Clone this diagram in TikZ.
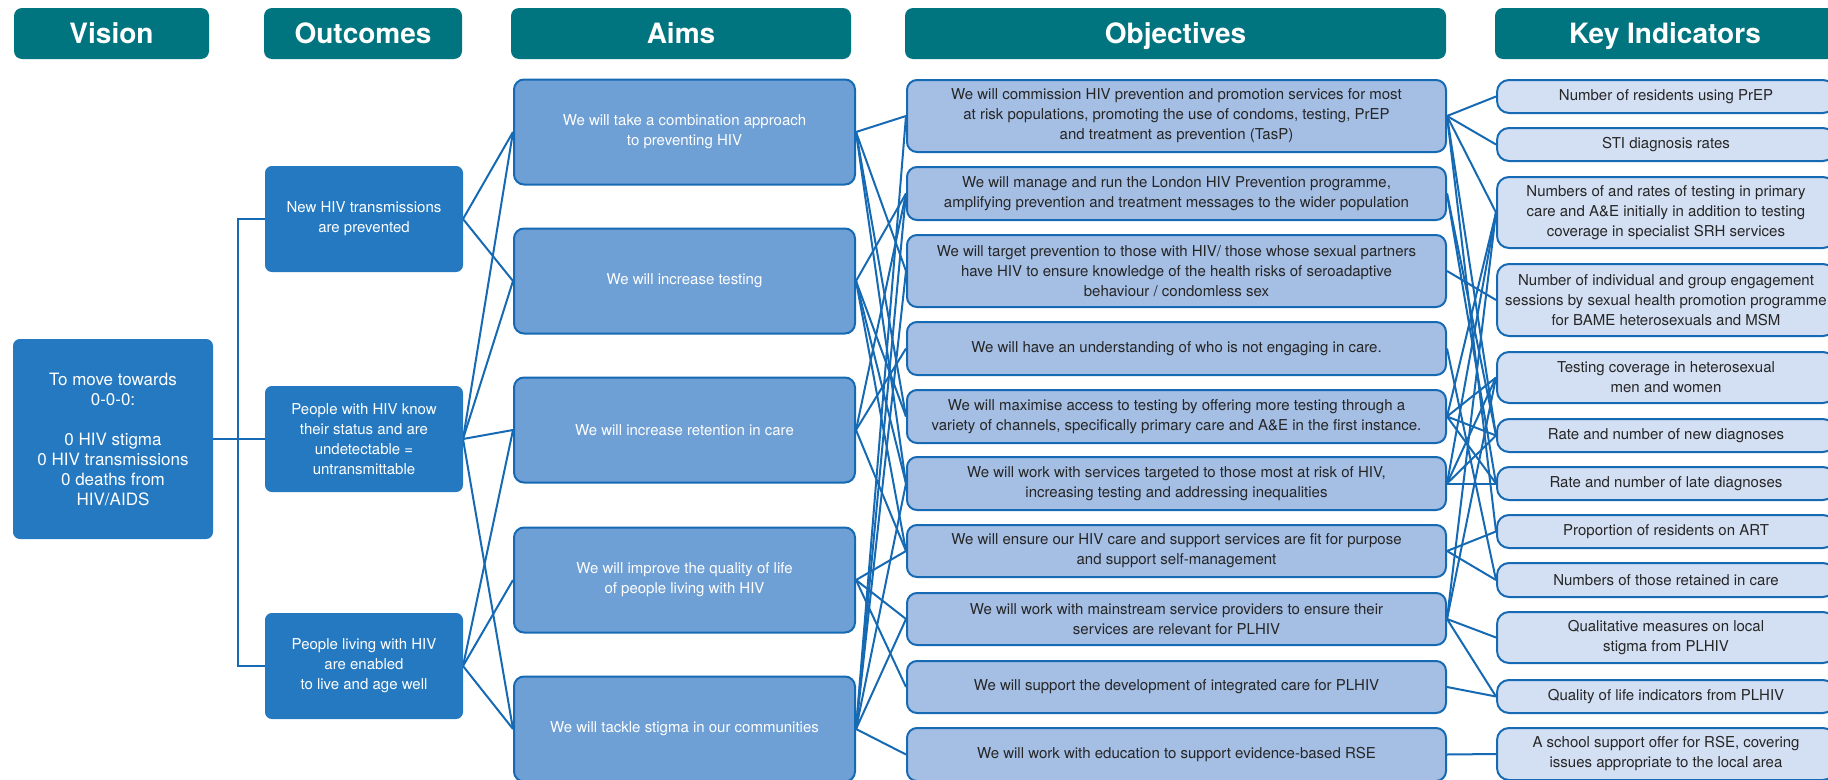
\documentclass[tikz,border=0pt]{standalone}
\usepackage{fontspec}
\setmainfont{TeX Gyre Heros}
\usepackage{tikz}
\usetikzlibrary{arrows,shapes}
\pgfdeclarelayer{background}
\pgfsetlayers{background,main}
\definecolor{hdrteal}{RGB}{0,117,128}
\definecolor{visblue}{RGB}{36,121,193}
\definecolor{aimblue}{RGB}{110,159,213}
\definecolor{objblue}{RGB}{164,190,228}
\definecolor{kiblue}{RGB}{211,223,242}
\definecolor{linkblue}{RGB}{22,106,180}
\tikzstyle{header}=[rectangle,rounded corners=8pt,fill=hdrteal,text=white,minimum height=51pt,text height=20pt,text depth=0pt,font=\fontsize{28}{32}\selectfont\bfseries]
\tikzstyle{box}=[rectangle,rounded corners=10pt,draw=linkblue,line width=2pt,align=center,inner sep=2pt,font=\fontsize{15}{20}\selectfont]
\tikzstyle{vision box}=[box,fill=visblue,draw=visblue,text=white,minimum width=198pt,minimum height=198pt,rounded corners=6pt,font=\fontsize{17}{20}\selectfont]
\tikzstyle{outcome}=[box,fill=visblue,draw=visblue,text=white,minimum width=196pt,minimum height=104pt,rounded corners=6pt]
\tikzstyle{aim}=[box,fill=aimblue,text=white,minimum width=341pt,minimum height=105pt]
\tikzstyle{objective}=[box,fill=objblue,text=black!85,minimum width=539pt]
\tikzstyle{indicator}=[box,fill=kiblue,text=black!85,minimum width=338pt,rounded corners=12pt]
\tikzstyle{edge}=[draw,line width=2pt,linkblue,-]

\begin{document}
\begin{tikzpicture}[x=1pt,y=-1pt]
    \useasboundingbox (0,0) rectangle (1828,779);
    % Column headers
    \foreach \pos/\name/\hw/\txt in {{(111.5,33.5)/hVis/195/Vision}, {(363,33.5)/hOut/198/Outcomes}, {(681,33.5)/hAim/340/Aims}, {(1175.5,33.5)/hObj/541/Objectives}, {(1665,33.5)/hKey/340/Key Indicators}}
        \node[header,minimum width=\hw pt] (\name) at \pos {\txt};

    % Vision and outcomes
    \node[vision box] (vis) at (113,439) {To move towards\\0-0-0:\\[20pt]0 HIV stigma\\0 HIV transmissions\\0 deaths from\\HIV/AIDS};
    \node[outcome] (out1) at (364,219) {New HIV transmissions\\are prevented};
    \node[outcome] (out2) at (364,439) {People with HIV know\\their status and are\\undetectable =\\untransmittable};
    \node[outcome] (out3) at (364,666) {People living with HIV\\are enabled\\to live and age well};

    % Aims
    \node[aim] (a1) at (684.5,132) {We will take a combination approach\\to preventing HIV};
    \node[aim] (a2) at (684.5,281) {We will increase testing};
    \node[aim] (a3) at (684.5,430) {We will increase retention in care};
    \node[aim] (a4) at (684.5,580) {We will improve the quality of life\\of people living with HIV};
    \node[aim] (a5) at (684.5,729) {We will tackle stigma in our communities};

    % Objectives
    \node[objective,minimum height=72pt] (o1) at (1176.5,116) {We will commission HIV prevention and promotion services for most\\at risk populations, promoting the use of condoms, testing, PrEP\\and treatment as prevention (TasP)};
    \node[objective,minimum height=53pt] (o2) at (1176.5,193.5) {We will manage and run the London HIV Prevention programme,\\amplifying prevention and treatment messages to the wider population};
    \node[objective,minimum height=72pt] (o3) at (1176.5,271) {We will target prevention to those with HIV/ those whose sexual partners\\have HIV to ensure knowledge of the health risks of seroadaptive\\behaviour / condomless sex};
    \node[objective,minimum height=53pt] (o4) at (1176.5,348.5) {We will have an understanding of who is not engaging in care.};
    \node[objective,minimum height=53pt] (o5) at (1176.5,416.5) {We will maximise access to testing by offering more testing through a\\variety of channels, specifically primary care and A\&E in the first instance.};
    \node[objective,minimum height=53pt] (o6) at (1176.5,483.5) {We will work with services targeted to those most at risk of HIV,\\increasing testing and addressing inequalities};
    \node[objective,minimum height=52pt] (o7) at (1176.5,551) {We will ensure our HIV care and support services are fit for purpose\\and support self-management};
    \node[objective,minimum height=52pt] (o8) at (1176.5,619) {We will work with mainstream service providers to ensure their\\services are relevant for PLHIV};
    \node[objective,minimum height=52pt] (o9) at (1176.5,687) {We will support the development of integrated care for PLHIV};
    \node[objective,minimum height=53pt] (o10) at (1176.5,754.5) {We will work with education to support evidence-based RSE};

    % Key indicators
    \node[indicator,minimum height=33pt] (k1) at (1666,96.5) {Number of residents using PrEP};
    \node[indicator,minimum height=33pt] (k2) at (1666,144.5) {STI diagnosis rates};
    \node[indicator,minimum height=71pt] (k3) at (1666,212.5) {Numbers of and rates of testing in primary\\care and A\&E initially in addition to testing\\coverage in specialist SRH services};
    \node[indicator,minimum height=72pt] (k4) at (1666,300) {Number of individual and group engagement\\sessions by sexual health promotion programme\\for BAME heterosexuals and MSM};
    \node[indicator,minimum height=51pt] (k5) at (1666,377.5) {Testing coverage in heterosexual\\men and women};
    \node[indicator,minimum height=33pt] (k6) at (1666,435.5) {Rate and number of new diagnoses};
    \node[indicator,minimum height=33pt] (k7) at (1666,483.5) {Rate and number of late diagnoses};
    \node[indicator,minimum height=33pt] (k8) at (1666,531.5) {Proportion of residents on ART};
    \node[indicator,minimum height=34pt] (k9) at (1666,580) {Numbers of those retained in care};
    \node[indicator,minimum height=51pt] (k10) at (1666,637.5) {Qualitative measures on local\\stigma from PLHIV};
    \node[indicator,minimum height=33pt] (k11) at (1666,696.5) {Quality of life indicators from PLHIV};
    \node[indicator,minimum height=52pt] (k12) at (1666,754) {A school support offer for RSE, covering\\issues appropriate to the local area};

    % Connect the columns
    \begin{pgfonlayer}{background}
    \coordinate (split) at (238,439);
    \path[edge] (vis.east) -- (out2.west);
    \path[edge] (out1.west) -| (split) |- (out3.west);
    \foreach \source/\dest in {out1/a1, out1/a2, out2/a1, out2/a2, out2/a3, out2/a5, out3/a3, out3/a4, out3/a5}
        \path[edge] (\source.east) -- (\dest.west);
    \foreach \source/\dest in {a1/o1, a1/o3, a1/o5, a1/o6, a2/o2, a2/o5, a2/o6, a2/o7, a3/o2, a3/o4, a3/o7, a4/o7, a4/o8, a4/o9, a5/o1, a5/o2, a5/o3, a5/o6, a5/o8, a5/o10}
        \path[edge] (\source.east) -- (\dest.west);
    \foreach \source/\dest in {o1/k1, o1/k2, o1/k3, o1/k6, o1/k8, o2/k6, o2/k7, o3/k4, o4/k9, o5/k3, o5/k5, o5/k6, o5/k7, o6/k3, o6/k5, o6/k6, o6/k7, o7/k8, o7/k9, o8/k3, o8/k5, o8/k10, o8/k11, o9/k11, o10/k12}
        \path[edge] (\source.east) -- (\dest.west);
    \end{pgfonlayer}
\end{tikzpicture}
\end{document}
